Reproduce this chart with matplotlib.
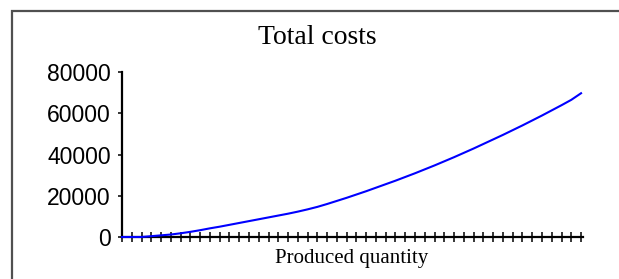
import numpy as np
import matplotlib.pyplot as plt
from matplotlib.patches import Rectangle

# produced quantity (tick positions) and total costs
quantity = list(range(48))
total_costs = [0, 0, 0, 400, 800, 1200, 1800, 2500, 3300, 4200,
               5000, 5900, 6800, 7700, 8600, 9500, 10400, 11300, 12300, 13400,
               14600, 16000, 17500, 19000, 20600, 22200, 23900, 25600, 27300, 29100,
               30900, 32800, 34700, 36700, 38700, 40800, 42900, 45100, 47300, 49500,
               51800, 54100, 56500, 58900, 61400, 63900, 66500, 69700]
y_ticks = [0, 20000, 40000, 60000, 80000]

W, H = 619, 279
fig = plt.figure(figsize=(W / 100, H / 100), dpi=100)

# outer frame (right and bottom run past the picture edge)
fig.patches.append(Rectangle((12 / W, -0.2), 1.2, 1 - 11 / H + 0.2,
                             transform=fig.transFigure, fill=False,
                             edgecolor='#505050', linewidth=1.6))

ax = fig.add_axes([122 / W, 1 - 237 / H, (583 - 122) / W, (237 - 72) / H])
ax.plot(quantity, total_costs, color='#0000ff', linewidth=1.5, clip_on=False,
        zorder=3)

ax.set_xlim(0, 47.2)
ax.set_ylim(0, 80000)
ax.set_xticks(quantity)
ax.set_xticklabels([])
ax.set_yticks(y_ticks)
ax.set_yticklabels([str(v) for v in y_ticks],
                   family=['DejaVu Sans Condensed', 'Liberation Sans'],
                   fontsize=16.5)
ax.tick_params(axis='x', direction='inout', length=7, width=1.1, color='black')
ax.tick_params(axis='y', direction='out', length=3, width=1.1, pad=5)

for s in ['top', 'right']:
    ax.spines[s].set_visible(False)
for s in ['left', 'bottom']:
    ax.spines[s].set_linewidth(1.6)

fig.text(317 / W, 1 - 37 / H, 'Total costs', ha='center', va='center',
         family='Liberation Serif', fontsize=20)
fig.text(352 / W, 1 - 258 / H, 'Produced quantity', ha='center', va='center',
         family='Liberation Serif', fontsize=15)

fig.savefig('out.png', dpi=100)
